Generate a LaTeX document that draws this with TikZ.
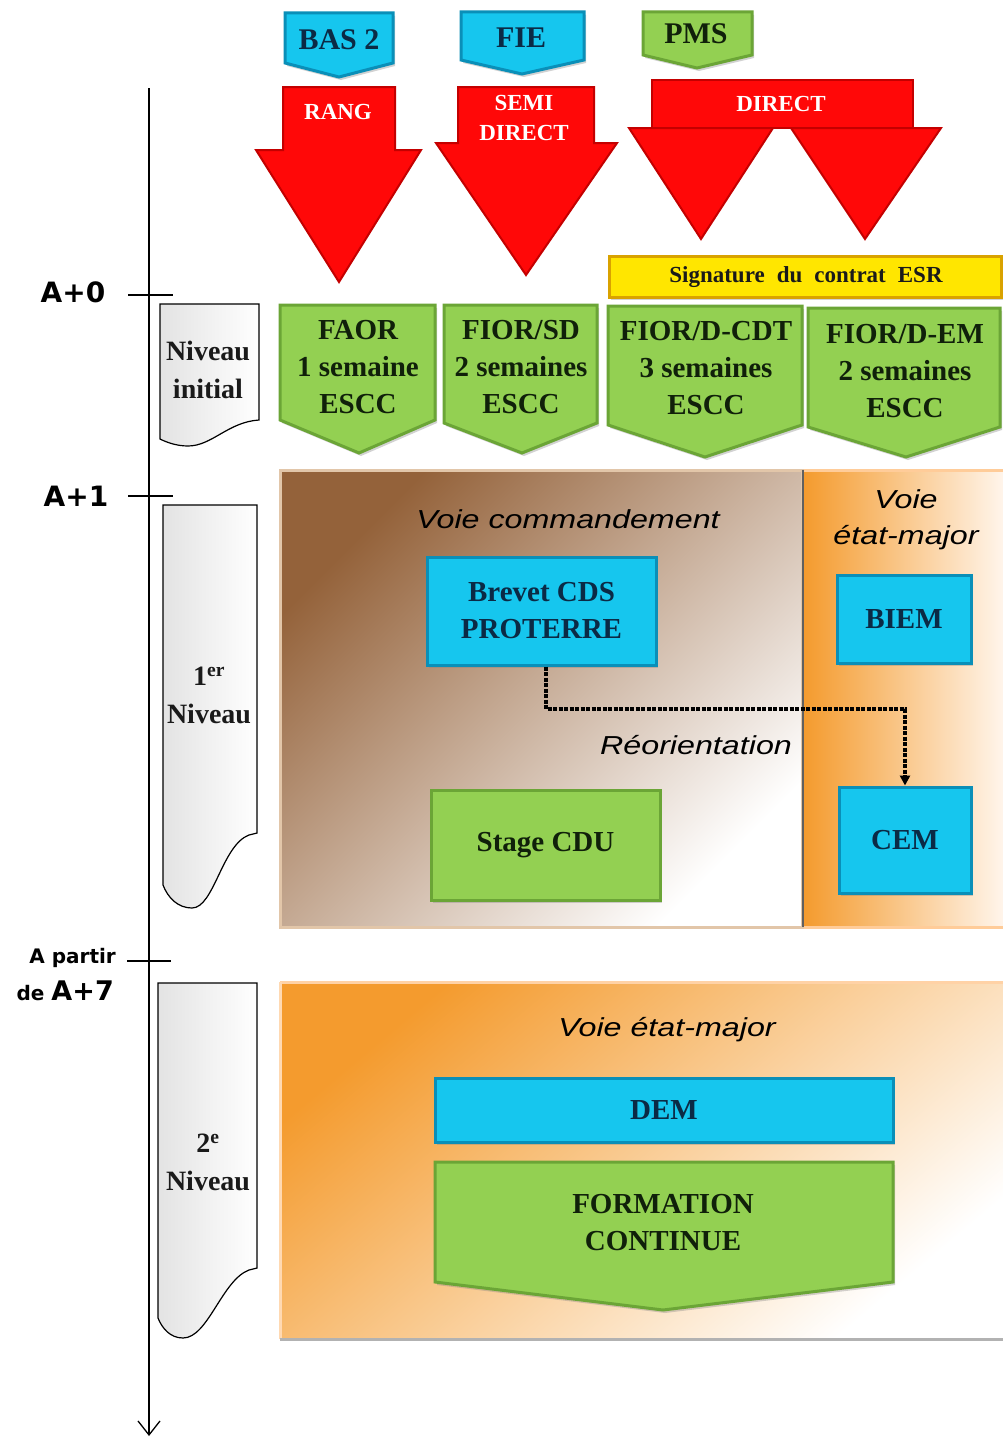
\documentclass[tikz,border=0pt]{standalone}
\usepackage{fontspec}
\setmainfont{Liberation Serif}
\newfontfamily\sansit[FakeStretch=1.24]{Liberation Sans}
\newfontfamily\labfont{DejaVu Sans}
\usetikzlibrary{arrows.meta,shadows}
\definecolor{cyanF}{HTML}{16C6EE}
\definecolor{cyanD}{HTML}{0A8FB8}
\definecolor{cyanT}{HTML}{0B2A45}
\definecolor{greenF}{HTML}{93D052}
\definecolor{greenD}{HTML}{6BA536}
\definecolor{greenT}{HTML}{10200A}
\definecolor{redF}{HTML}{FF0808}
\definecolor{redD}{HTML}{C40000}
\definecolor{yellowF}{HTML}{FFE600}
\definecolor{yellowD}{HTML}{D9A200}
\definecolor{brownA}{HTML}{94623A}
\definecolor{brownM}{HTML}{E2D0C1}
\definecolor{orangeA}{HTML}{F49B2E}
\definecolor{orangeM}{HTML}{FCDDC2}
\definecolor{docT}{HTML}{1A1A1A}
\tikzset{
  cyanbox/.style={fill=cyanF, draw=cyanD, line width=3pt, line join=miter},
  greenbox/.style={fill=greenF, draw=greenD, line width=3pt, line join=miter},
  redshape/.style={fill=redF, draw=redD, line width=2pt, line join=miter},
  yellowbox/.style={fill=yellowF, draw=yellowD, line width=3pt},
  docshape/.style={left color=gray!22, right color=white, draw=black, line width=1.2pt},
  boxshadow/.style={drop shadow={opacity=0.35, shadow xshift=2pt, shadow yshift=-3pt}},
  sertext/.style={font=\fontsize{29}{37}\selectfont\bfseries, align=center, inner sep=0pt},
  tabtext/.style={font=\fontsize{30}{34}\selectfont\bfseries, align=center, inner sep=0pt},
  redtext/.style={font=\fontsize{23}{30}\selectfont\bfseries, align=center, inner sep=0pt, text=white},
  doctext/.style={font=\fontsize{28}{38}\selectfont\bfseries, align=center, inner sep=0pt, text=docT},
  voietext/.style={font=\sansit\itshape\fontsize{26}{36}\selectfont, align=center, inner sep=0pt, text=black},
  axislab/.style={font=\labfont\bfseries\fontsize{28}{32}\selectfont, inner sep=0pt},
  smalllab/.style={font=\labfont\bfseries\fontsize{20}{24}\selectfont, inner sep=0pt},
  axisline/.style={line width=1.3pt, -{Straight Barb[length=14pt,width=22pt,line width=1.3pt]}},
  tickline/.style={line width=1.3pt},
  reoline/.style={line width=3.5pt, dash pattern=on 4pt off 1.5pt, -{Triangle[length=10pt,width=10pt]}},
}
\begin{document}
\begin{tikzpicture}[x=1pt,y=-1pt]
\useasboundingbox (0,0) rectangle (1003,1437);
\fill[white] (0,0) rectangle (1003,1437);

% ---------- timeline axis ----------
\coordinate (axtop) at (149,88);
\coordinate (axbot) at (149,1436);
\draw[axisline] (axtop) -- (axbot);
\draw[tickline] (128,295) -- (173,295);
\draw[tickline] (128,496) -- (173,496);
\draw[tickline] (127,961) -- (171,961);
\node[axislab] (a0) at (73,292) {A+0};
\node[axislab] (a1) at (76,496) {A+1};
\node[smalllab, anchor=east] (apartir) at (116,958) {A partir};
\node[smalllab, anchor=east] (dea7) at (114,991) {de {\fontsize{27}{30}\selectfont A+7}};

% ---------- grey level shapes ----------
\path[docshape] (160,304) -- (259,304) -- (259,420)
  .. controls (228,422) and (212,446) .. (188,446)
  .. controls (176,446) and (166,442) .. (160,439) -- cycle;
\node[doctext] (niv0) at (208,370) {Niveau\\initial};

\path[docshape] (163,505) -- (257,505) -- (257,833) -- (249,835)
  .. controls (222,845) and (214,908) .. (192,908)
  .. controls (178,908) and (168,898) .. (163,885) -- cycle;
\node[doctext] (niv1) at (209,695) {1\textsuperscript{er}\\Niveau};

\path[docshape] (158,983) -- (257,983) -- (257,1268) -- (249,1270)
  .. controls (222,1280) and (208,1338) .. (183,1338)
  .. controls (170,1338) and (162,1328) .. (158,1318) -- cycle;
\node[doctext] (niv2) at (208,1162) {2\textsuperscript{e}\\Niveau};

% ---------- top tabs ----------
\path[cyanbox, boxshadow] (285,13) -- (393,13) -- (393,63) -- (339,77) -- (285,63) -- cycle;
\node[tabtext, text=cyanT] (bas) at (339,40) {BAS 2};
\path[cyanbox, boxshadow] (461,12) -- (584,12) -- (584,60) -- (522,74) -- (461,60) -- cycle;
\node[tabtext, text=cyanT] (fie) at (521,38) {FIE};
\path[greenbox, boxshadow] (643,12) -- (752,12) -- (752,55) -- (697,68) -- (643,55) -- cycle;
\node[tabtext, text=greenT] (pms) at (696,34) {PMS};

% ---------- red arrows ----------
\path[redshape] (283,87) -- (395,87) -- (395,150) -- (421,150) -- (339,282) -- (256,150) -- (283,150) -- cycle;
\node[redtext] (rang) at (338,112) {RANG};
\path[redshape] (458,87) -- (594,87) -- (594,143) -- (617,143) -- (526,275) -- (436,143) -- (458,143) -- cycle;
\node[redtext] (semi) at (524,118) {SEMI\\DIRECT};
\path[redshape] (629,128) -- (773,128) -- (701,239) -- cycle;
\path[redshape] (791,128) -- (941,128) -- (865,239) -- cycle;
\path[redshape] (652,80) rectangle (913,128);
\node[redtext] (direct) at (781,104) {DIRECT};

% ---------- signature bar ----------
\path[yellowbox, boxshadow] (609,256) rectangle (1001,297);
\node[font=\fontsize{23}{28}\selectfont\bfseries, text=docT, inner sep=0pt] (esr) at (806,277)
  {Signature\hspace{12pt}du\hspace{12pt}contrat\hspace{12pt}ESR};

% ---------- initial level pentagons ----------
\path[greenbox, boxshadow] (280,305) -- (435,305) -- (435,420) -- (359,453) -- (280,420) -- cycle;
\node[sertext, text=greenT] (faor) at (358,367) {FAOR\\1 semaine\\ESCC};
\path[greenbox, boxshadow] (444,305) -- (597,305) -- (597,423) -- (522,453) -- (444,423) -- cycle;
\node[sertext, text=greenT] (fiorsd) at (521,367) {FIOR/SD\\2 semaines\\ESCC};
\path[greenbox, boxshadow] (608,306) -- (802,306) -- (802,425) -- (705,457) -- (608,425) -- cycle;
\node[sertext, text=greenT] (fiorcdt) at (706,368) {FIOR/D-CDT\\3 semaines\\ESCC};
\path[greenbox, boxshadow] (808,308) -- (1000,308) -- (1000,427) -- (906,457) -- (808,427) -- cycle;
\node[sertext, text=greenT] (fiorem) at (905,371) {FIOR/D-EM\\2 semaines\\ESCC};

% ---------- first level panels ----------
\shade[top color=brownA, middle color=brownM, bottom color=white, shading angle=45] (280,470) rectangle (802,927);
\draw[draw=brown!45!white, line width=3pt] (280,470) rectangle (802,927);
\shade[left color=orangeA, right color=orange!8!white] (804,470) rectangle (1003,927);
\draw[draw=orange!40!white, line width=3pt] (804,470) -- (1003,470);
\draw[draw=orange!40!white, line width=3pt] (804,927) -- (1003,927);
\draw[gray!75!black, line width=2.5pt] (803,470) -- (803,927);

\node[voietext] (vcmd) at (568,519) {Voie commandement};
\node[voietext] (vem1) at (906,520) {Voie\\état-major};

\node[cyanbox, boxshadow, minimum width=229pt, minimum height=108pt, sertext, text=cyanT] (brevet) at (541.5,611) {Brevet CDS\\PROTERRE};
\node[cyanbox, boxshadow, minimum width=134pt, minimum height=88pt, sertext, text=cyanT] (biem) at (904,619) {BIEM};
\node[cyanbox, boxshadow, minimum width=132pt, minimum height=106pt, sertext, text=cyanT] (cem) at (905,840) {CEM};
\node[greenbox, boxshadow, minimum width=229pt, minimum height=110pt, sertext, text=greenT] (cdu) at (545.5,845) {Stage CDU};

\coordinate (reobend) at (905,709);
\draw[reoline] ([xshift=4.5pt]brevet.south) |- (reobend) -- (cem.north);
\node[voietext] (reo) at (696,745) {Réorientation};

% ---------- second level panel ----------
\shade[top color=orangeA, middle color=orangeM, bottom color=white, shading angle=40] (280,982) rectangle (1003,1339);
\draw[draw=orange!35!white, line width=3pt] (280,982) -- (1003,982);
\draw[draw=orange!30!white, line width=3pt] (280,982) -- (280,1339);
\draw[draw=gray!60, line width=3pt] (280,1339) -- (1003,1339);

\node[voietext] (vem2) at (667,1030) {Voie état-major};
\node[cyanbox, boxshadow, minimum width=458pt, minimum height=64pt, sertext, text=cyanT] (dem) at (664,1110) {DEM};
\path[greenbox, boxshadow] (435,1162) -- (893,1162) -- (893,1282) -- (663,1310) -- (435,1282) -- cycle;
\node[sertext, text=greenT] (fc) at (663,1223) {FORMATION\\CONTINUE};
\end{tikzpicture}
\end{document}
